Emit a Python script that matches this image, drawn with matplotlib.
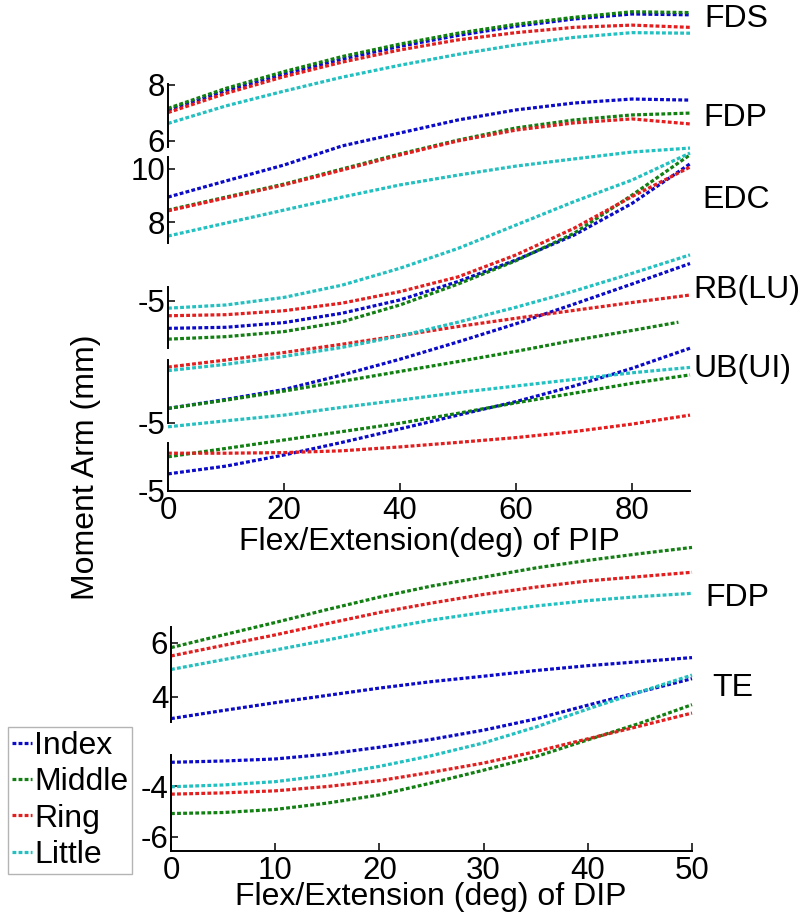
import matplotlib
matplotlib.use("Agg")
import matplotlib.pyplot as plt
from matplotlib.lines import Line2D

plt.rcParams['font.family'] = ['Liberation Sans', 'DejaVu Sans']
plt.rcParams['axes.unicode_minus'] = False

# ---------------- data (moment arm in mm) ----------------
fingers = ['Index', 'Middle', 'Ring', 'Little']
finger_colors = ['#0a0ac8', '#127f12', '#e21e1e', '#22c0c0']

pip_deg = [0, 10, 20, 30, 40, 50, 60, 70, 80, 90]
pip_deg_short = [0, 10, 20, 30, 40, 50, 60, 70, 80, 88]
dip_deg = [0, 5, 10, 15, 20, 25, 30, 35, 40, 45, 50]

# PIP joint, order: Index, Middle, Ring, Little
fds_pip = [
    [7.10, 7.80, 8.39, 8.93, 9.39, 9.78, 10.11, 10.37, 10.55, 10.52],
    [7.16, 7.88, 8.48, 9.02, 9.47, 9.86, 10.18, 10.43, 10.63, 10.60],
    [7.01, 7.70, 8.30, 8.82, 9.26, 9.62, 9.88, 10.07, 10.15, 10.07],
    [6.62, 7.25, 7.78, 8.28, 8.71, 9.10, 9.44, 9.71, 9.88, 9.86],
]
fdp_pip = [
    [8.94, 9.55, 10.15, 10.87, 11.36, 11.85, 12.23, 12.49, 12.64, 12.60],
    [8.45, 8.94, 9.43, 10.00, 10.57, 11.09, 11.55, 11.85, 12.04, 12.11],
    [8.42, 8.91, 9.40, 9.96, 10.53, 11.06, 11.47, 11.74, 11.89, 11.70],
    [7.47, 7.96, 8.45, 8.94, 9.40, 9.77, 10.11, 10.38, 10.64, 10.79],
]
edc_pip = [
    [-5.76, -5.73, -5.60, -5.34, -4.97, -4.46, -3.86, -3.17, -2.29, -1.19],
    [-6.06, -5.99, -5.85, -5.58, -5.11, -4.53, -3.88, -3.12, -2.06, -0.94],
    [-5.41, -5.38, -5.27, -5.06, -4.74, -4.33, -3.72, -2.98, -2.10, -1.28],
    [-5.20, -5.11, -4.90, -4.56, -4.09, -3.54, -2.89, -2.24, -1.64, -0.89],
]
rb_pip = [
    [-4.63, -4.40, -4.15, -3.78, -3.38, -2.94, -2.48, -1.98, -1.47, -0.95],
    [-4.63, -4.42, -4.19, -3.94, -3.69, -3.44, -3.18, -2.90, -2.65, -2.44],
    [-3.58, -3.40, -3.21, -3.00, -2.78, -2.55, -2.34, -2.14, -1.94, -1.75],
    [-3.67, -3.51, -3.31, -3.08, -2.79, -2.44, -2.06, -1.65, -1.20, -0.73],
]
ub_pip = [
    [-4.43, -4.17, -3.80, -3.38, -2.93, -2.47, -2.02, -1.50, -0.91, -0.24],
    [-3.86, -3.58, -3.30, -3.02, -2.74, -2.41, -2.06, -1.74, -1.41, -1.13],
    [-3.74, -3.74, -3.72, -3.66, -3.53, -3.38, -3.22, -3.02, -2.77, -2.47],
    [-2.86, -2.66, -2.47, -2.21, -1.97, -1.72, -1.50, -1.28, -1.06, -0.88],
]

# DIP joint
fdp_dip = [
    [3.20, 3.50, 3.79, 4.06, 4.33, 4.57, 4.77, 4.98, 5.16, 5.31, 5.46],
    [5.83, 6.30, 6.76, 7.24, 7.70, 8.11, 8.44, 8.78, 9.06, 9.31, 9.54],
    [5.52, 5.91, 6.30, 6.72, 7.13, 7.48, 7.80, 8.07, 8.30, 8.46, 8.62],
    [5.02, 5.38, 5.74, 6.11, 6.50, 6.85, 7.13, 7.37, 7.57, 7.72, 7.84],
]
te_dip = [
    [-3.07, -3.02, -2.94, -2.75, -2.48, -2.17, -1.81, -1.37, -0.83, -0.31, 0.21],
    [-5.08, -5.04, -4.92, -4.67, -4.35, -3.88, -3.38, -2.85, -2.19, -1.54, -0.81],
    [-4.32, -4.27, -4.19, -4.02, -3.79, -3.46, -3.10, -2.65, -2.15, -1.65, -1.14],
    [-4.03, -3.96, -3.83, -3.58, -3.23, -2.81, -2.31, -1.69, -0.98, -0.31, 0.35],
]

# ---------------- figure ----------------
W, H = 803, 919
fig = plt.figure(figsize=(W / 100, H / 100), dpi=100)

DOTS = (0, (1.2, 0.7))
LINE_STYLE = dict(linestyle=DOTS, linewidth=2.3, clip_on=False)
TICK_FS = 22.5
LABEL_FS = 23


def fig_xy(x, y):
    return x / W, 1 - y / H


def band(x0, x1, top, bot, ref_a, ref_b, xlim, yticks):
    """Axes whose left spine spans pixel rows top..bot; ref_a/ref_b pin (value, row)."""
    (va, pa), (vb, pb) = ref_a, ref_b
    k = (vb - va) / (pb - pa)
    ylo = va + k * (bot - pa)
    yhi = va + k * (top - pa)
    ax = fig.add_axes([x0 / W, 1 - bot / H, (x1 - x0) / W, (bot - top) / H])
    ax.set_xlim(*xlim)
    ax.set_ylim(ylo, yhi)
    ax.patch.set_visible(False)
    for s in ('top', 'right', 'bottom'):
        ax.spines[s].set_visible(False)
    ax.spines['left'].set_linewidth(1.4)
    ax.set_yticks(yticks)
    ax.set_yticklabels([f'{t:g}' for t in yticks])
    ax.set_xticks([])
    ax.tick_params(axis='y', direction='in', length=5, width=1.1,
                   labelsize=TICK_FS, pad=2)
    return ax


def draw(ax, xs, series):
    for vals, c in zip(series, finger_colors):
        ax.plot(xs, vals, color=c, **LINE_STYLE)


def x_axis(ax, ticks, label, label_top, center_x):
    ax.spines['bottom'].set_visible(True)
    ax.spines['bottom'].set_linewidth(1.4)
    ax.set_xticks(ticks)
    ax.tick_params(axis='x', direction='in', length=6, width=1.1,
                   labelsize=TICK_FS, pad=3.5)
    ax.set_xlabel(label, fontsize=LABEL_FS)
    ax.xaxis.set_label_coords(*fig_xy(center_x, label_top),
                              transform=fig.transFigure)


PX0, PX1 = 168, 690   # PIP axis horizontal extent (pixels)
DX0, DX1 = 171, 692   # DIP axis horizontal extent

ax_fds = band(PX0, PX1, 84, 147, (8, 85), (6, 140.7), (0, 90), [6, 8])
draw(ax_fds, pip_deg, fds_pip)

ax_fdp = band(PX0, PX1, 157, 243, (10, 169), (8, 222), (0, 90), [8, 10])
draw(ax_fdp, pip_deg, fdp_pip)

ax_edc = band(PX0, PX1, 287, 348, (-5, 301), (-4, 265), (0, 90), [-5])
draw(ax_edc, pip_deg, edc_pip)

ax_rb = band(PX0, PX1, 360, 423, (-5, 424), (-4, 384), (0, 90), [-5])
for i, (vals, c) in enumerate(zip(rb_pip, finger_colors)):
    ax_rb.plot(pip_deg_short if i == 1 else pip_deg, vals, color=c, **LINE_STYLE)

ax_ub = band(PX0, PX1, 443, 491, (-5, 491), (-4, 461), (0, 90), [-5])
draw(ax_ub, pip_deg, ub_pip)
x_axis(ax_ub, [0, 20, 40, 60, 80], 'Flex/Extension(deg) of PIP', 527, 429)

ax_fdp2 = band(DX0, DX1, 627, 722, (6, 643), (4, 697), (0, 50), [4, 6])
draw(ax_fdp2, dip_deg, fdp_dip)

ax_te = band(DX0, DX1, 755, 851, (-4, 786), (-6, 837), (0, 50), [-6, -4])
draw(ax_te, dip_deg, te_dip)
x_axis(ax_te, [0, 10, 20, 30, 40, 50], 'Flex/Extension (deg) of DIP', 882, 431)

# muscle names to the right of the curves
muscle_labels = [('FDS', 704, 19), ('FDP', 703, 118), ('EDC', 702, 200),
                 ('RB(LU)', 693, 290), ('UB(UI)', 694, 369),
                 ('FDP', 705, 598), ('TE', 712, 688)]
for txt, x, y in muscle_labels:
    fig.text(*fig_xy(x, y), txt, fontsize=LABEL_FS, ha='left', va='center')

fig.text(*fig_xy(86, 467), 'Moment Arm (mm)', rotation=90, fontsize=LABEL_FS,
         ha='center', va='center')

handles = [Line2D([], [], color=c, linestyle=DOTS, linewidth=2.3)
           for c in finger_colors]
leg = fig.legend(handles, fingers, loc='upper left',
                 bbox_to_anchor=fig_xy(8, 727), borderaxespad=0,
                 fontsize=23, handlelength=0.62, handletextpad=0.08,
                 labelspacing=0.2, borderpad=0.12, fancybox=False,
                 framealpha=1, edgecolor='#b4b4b4')
leg.get_frame().set_linewidth(1.0)

fig.savefig('out.png', dpi=100)
